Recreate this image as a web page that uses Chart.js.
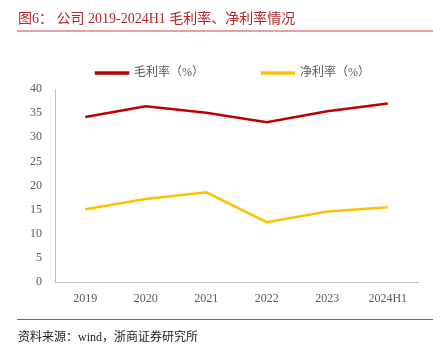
<!DOCTYPE html>
<html>
<head>
<meta charset="utf-8">
<script src="https://cdn.jsdelivr.net/npm/chart.js@4.4.1/dist/chart.umd.min.js"></script>
<style>
  html, body { margin: 0; padding: 0; background: #fff; }
  #wrap { position: relative; width: 441px; height: 354px; overflow: hidden; }
  #chart { position: absolute; left: 0; top: 0; }
  .title {
    position: absolute; left: 18px; top: 7px;
    font-family: "Liberation Serif", "Noto Sans CJK SC", serif;
    font-size: 14px; color: #b3262a; white-space: nowrap;
  }
  .rule1 { position: absolute; left: 17px; width: 416px; top: 30px; height: 2px; background: #e8a0a0; }
  .rule2 { position: absolute; left: 17px; width: 416px; top: 319px; height: 1px; background: #e03a3a; }
  .src {
    position: absolute; left: 18px; top: 327px;
    font-family: "Liberation Serif", "Noto Sans CJK SC", serif;
    font-size: 12px; color: #222; white-space: nowrap;
  }
</style>
</head>
<body>
<div id="wrap">
  <canvas id="chart" width="441" height="354"></canvas>
  <div class="title">图6：  公司 2019-2024H1 毛利率、净利率情况</div>
  <div class="rule1"></div>
  <div class="rule2"></div>
  <div class="src">资料来源：wind，浙商证券研究所</div>
</div>
<script>
// 年份
const years = ['2019', '2020', '2021', '2022', '2023', '2024H1'];
// 毛利率 / 净利率 (%)
const grossMargin = [34.2, 36.4, 35.1, 33.1, 35.4, 37.0];
const netMargin = [15.1, 17.2, 18.6, 12.4, 14.6, 15.5];
const yTicks = [0, 5, 10, 15, 20, 25, 30, 35, 40];

const fontFam = '"Liberation Serif", "Noto Sans CJK SC", serif';

// mueve la leyenda un poco a la derecha como en el original
const legendShift = {
    id: 'legendShift',
    afterLayout(chart) {
        chart.legend.left += 24;
        chart.legend.right += 24;
    }
};

const config = {
    type: 'line',
    data: {
        labels: years,
        datasets: [{
            label: '毛利率（%）',
            data: grossMargin,
            borderColor: '#c00000',
            backgroundColor: '#c00000',
            borderWidth: 2.5,
        }, {
            label: '净利率（%）',
            data: netMargin,
            borderColor: '#ffc000',
            backgroundColor: '#ffc000',
            borderWidth: 2.5,
        }]
    },
    plugins: [legendShift],
    options: {
        responsive: false,
        animation: false,
        elements: {
            point: { radius: 0 },
            line: { tension: 0 }
        },
        layout: {
            padding: { top: 9, right: 23, bottom: 0, left: 0 }
        },
        plugins: {
            legend: {
                labels: {
                    boxWidth: 32,
                    boxHeight: 1,
                    padding: 58,
                    color: '#595959',
                    font: { family: fontFam, size: 12 }
                }
            },
            tooltip: { enabled: false }
        },
        scales: {
            x: {
                offset: true,
                grid: { display: false, drawTicks: false, offset: true },
                border: { display: true, color: '#bfbfbf', width: 1 },
                ticks: {
                    color: '#595959',
                    padding: 10,
                    font: { family: fontFam, size: 12 }
                },
                afterFit: (s) => { s.height = 72; }
            },
            y: {
                min: 0,
                max: 40,
                afterBuildTicks: (s) => { s.ticks = yTicks.map(v => ({ value: v })); },
                grid: { display: false, drawTicks: false },
                border: { display: true, color: '#bfbfbf', width: 1 },
                ticks: {
                    color: '#595959',
                    padding: 13,
                    font: { family: fontFam, size: 12 }
                },
                afterFit: (s) => { s.width = 55; }
            }
        }
    }
};

var chart = document.getElementById('chart');
var myChart = new Chart(chart, config);
</script>
</body>
</html>
